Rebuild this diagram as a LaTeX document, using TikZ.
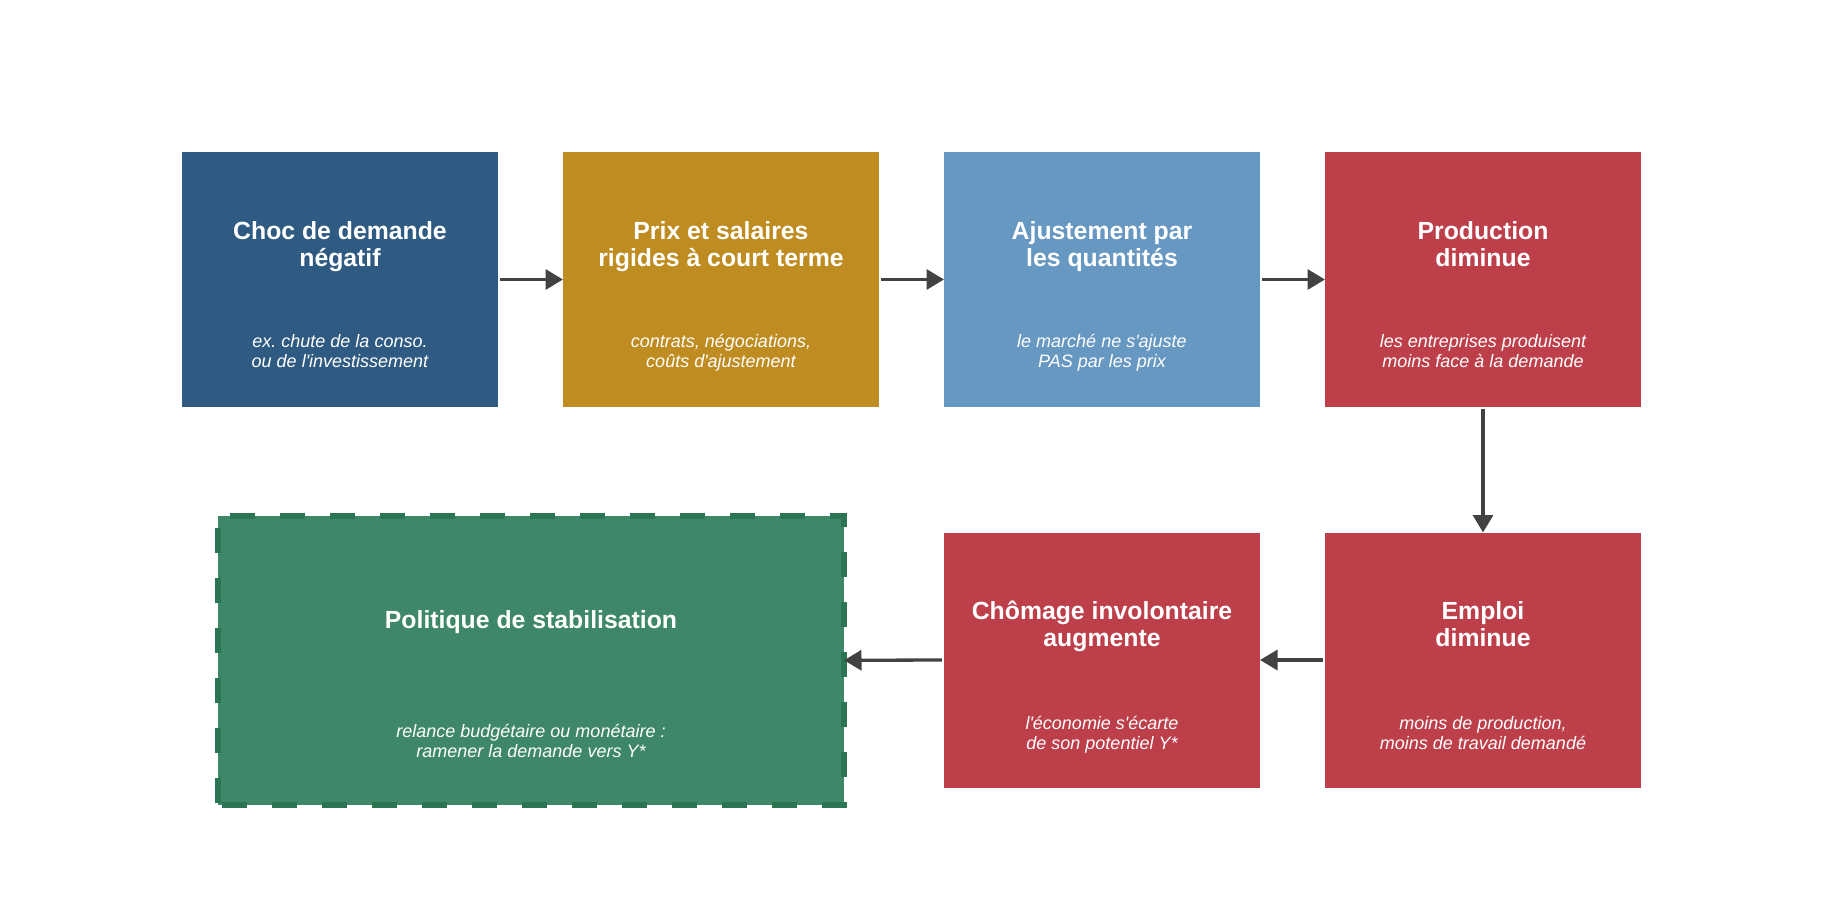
\documentclass[tikz,border=0pt]{standalone}
\usepackage{fontspec}
\setmainfont{Liberation Sans}
\frenchspacing
\usetikzlibrary{arrows.meta}
\definecolor{cblue}{HTML}{2F5B82}
\definecolor{cgold}{HTML}{BE8C20}
\definecolor{clight}{HTML}{6798C1}
\definecolor{cred}{HTML}{BC3F4A}
\definecolor{cgreen}{HTML}{3E8869}
\definecolor{cgreenb}{HTML}{2B7552}
\definecolor{carrow}{HTML}{424242}
\newcommand{\ls}{\strut}
\tikzset{
  box/.style={minimum width=316pt, minimum height=255pt, inner sep=0pt, outer sep=0pt, draw=none},
  ttl/.style={text=white, align=center, inner sep=0pt, font=\fontsize{24.8}{27.5}\selectfont\bfseries},
  sub/.style={text=white, align=center, inner sep=0pt, font=\fontsize{18}{20}\selectfont\itshape},
  arr/.style={draw=carrow, line width=3.3pt, -{Triangle[length=17.5pt,width=20pt]}, shorten <=2pt},
  greenborder/.style={draw=cgreenb, line width=6pt, line join=miter, dash pattern=on 25pt off 25pt, dash phase=38pt},
}
\begin{document}
\begin{tikzpicture}[x=1pt,y=-1pt]
\useasboundingbox (0,0) rectangle (1824,921);
% row 1
\node[box, fill=cblue] (b1) at (340,279.5) {};
\node[box, fill=cgold] (b2) at (721,279.5) {};
\node[box, fill=clight] (b3) at (1102,279.5) {};
\node[box, fill=cred] (b4) at (1483,279.5) {};
% row 2
\node[box, fill=cred] (b5) at (1483,660) {};
\node[box, fill=cred] (b6) at (1102,660) {};
\node[minimum width=626pt, minimum height=289pt, inner sep=0pt, outer sep=0pt, fill=cgreen] (b7) at (531,660.3) {};
\draw[greenborder] (b7.north west) -- (b7.north east) -- (b7.south east) -- (b7.south west);
\draw[greenborder] (b7.north west) -- (b7.south west);
% texts
\node[ttl] (t1) at (340,247.3) {\ls Choc de demande\\\ls négatif};
\node[sub] (s1) at (340,353.4) {\ls ex. chute de la conso.\\\ls ou de l\textquotesingle investissement};
\node[ttl] (t2) at (721,247.3) {\ls Prix et salaires\\\ls rigides à court terme};
\node[sub] (s2) at (721,353.4) {\ls contrats, négociations,\\\ls coûts d\textquotesingle ajustement};
\node[ttl] (t3) at (1102,247.3) {\ls Ajustement par\\\ls les quantités};
\node[sub] (s3) at (1102,353.4) {\ls le marché ne s\textquotesingle ajuste\\\ls PAS par les prix};
\node[ttl] (t4) at (1483,247.3) {\ls Production\\\ls diminue};
\node[sub] (s4) at (1483,353.4) {\ls les entreprises produisent\\\ls moins face à la demande};
\node[ttl] (t5) at (1483,627.5) {\ls Emploi\\\ls diminue};
\node[sub] (s5) at (1483,735.5) {\ls moins de production,\\\ls moins de travail demandé};
\node[ttl] (t6) at (1102,627.5) {\ls Chômage involontaire\\\ls augmente};
\node[sub] (s6) at (1102,735.5) {\ls l\textquotesingle économie s\textquotesingle écarte\\\ls de son potentiel Y*};
\node[ttl] (t7) at (531,623.1) {\ls Politique de stabilisation};
\node[sub] (s7) at (531,743.7) {\ls relance budgétaire ou monétaire :\\\ls ramener la demande vers Y*};
% arrows
\draw[arr] (b1.east) -- (b2.west);
\draw[arr] (b2.east) -- (b3.west);
\draw[arr] (b3.east) -- (b4.west);
\draw[arr] (b4.south) -- (b5.north);
\draw[arr] (b5.west) -- (b6.east);
\draw[arr] (b6.west) -- (b7.east);
\end{tikzpicture}
\end{document}
